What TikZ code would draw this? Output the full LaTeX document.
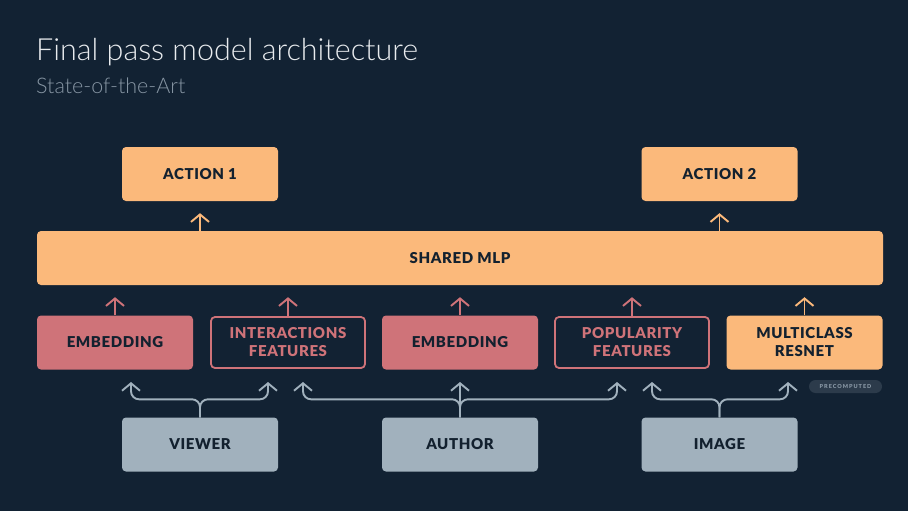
\documentclass[tikz,border=0pt]{standalone}
\usepackage{fontspec}
\setmainfont{Lato}
\newfontfamily\lightfont{Lato Light}
\newfontfamily\labelfont{Lato}[UprightFont=* Black,LetterSpace=4]
\usetikzlibrary{arrows.meta}

\definecolor{bgnavy}{HTML}{122233}
\definecolor{inknavy}{HTML}{13212F}
\definecolor{peach}{HTML}{FBB97B}
\definecolor{rose}{HTML}{CF7379}
\definecolor{slate}{HTML}{A1B1BD}
\definecolor{titlegray}{HTML}{E8EBEE}
\definecolor{subgray}{HTML}{8796A4}
\definecolor{pillfill}{HTML}{2C3B4B}

\tikzset{
  block/.style={rounded corners=4pt, minimum width=156pt, minimum height=54pt,
    inner sep=0pt, align=center, text=inknavy,
    font=\labelfont\fontsize{15}{18}\selectfont},
  peachbox/.style={block, fill=peach},
  rosebox/.style={block, fill=rose},
  rosering/.style={block, draw=rose, line width=1.8pt, fill=bgnavy, text=rose,
    minimum width=154pt, minimum height=51pt},
  slatebox/.style={block, fill=slate},
  uparrow/.style={line width=1.9pt, shorten >=12pt,
    -{Straight Barb[length=7.5pt,width=18pt]}},
  fork/.style={line width=1.9pt, draw=slate, rounded corners=8pt,
    -{Straight Barb[length=7.5pt,width=18pt]}},
}

\begin{document}
\begin{tikzpicture}[x=1pt,y=-1pt]
  % backdrop
  \fill[bgnavy] (0,0) rectangle (908,511);
  \useasboundingbox (0,0) rectangle (908,511);

  % headings
  \node[anchor=base west, inner sep=0pt, text=titlegray,
        font=\lightfont\fontsize{30.5}{36}\selectfont] (title) at (36,60)
        {Final pass model architecture};
  \node[anchor=base west, inner sep=0pt, text=subgray,
        font=\lightfont\fontsize{21.5}{26}\selectfont] (subtitle) at (36,94)
        {State-of-the-Art};

  % outputs
  \node[peachbox] (act1) at (200,174) {ACTION 1};
  \node[peachbox] (act2) at (719.5,174) {ACTION 2};

  % shared trunk
  \node[peachbox, minimum width=846pt] (mlp) at (460,258) {SHARED MLP};

  % feature blocks
  \node[rosebox]  (emb1) at (115,342.5) {EMBEDDING};
  \node[rosering] (inter) at (288,342.5) {INTERACTIONS\\FEATURES};
  \node[rosebox]  (emb2) at (460,342.5) {EMBEDDING};
  \node[rosering] (popul) at (632,342.5) {POPULARITY\\FEATURES};
  \node[peachbox] (resnet) at (804.5,342.5) {MULTICLASS\\RESNET};

  % precomputed tag
  \node[fill=pillfill, rounded corners=6.5pt, minimum width=73pt,
        minimum height=13pt, inner sep=0pt, text=subgray,
        font=\labelfont\fontsize{5.5}{6}\selectfont\addfontfeatures{LetterSpace=18}]
        (tag) at (845.5,386.5) {PRECOMPUTED};

  % inputs
  \node[slatebox] (viewer) at (200,444.5) {VIEWER};
  \node[slatebox] (author) at (460,444.5) {AUTHOR};
  \node[slatebox] (image)  at (719.5,444.5) {IMAGE};

  % trunk to outputs
  \draw[uparrow, peach] (act1.south |- mlp.north) -- (act1.south);
  \draw[uparrow, peach] (act2.south |- mlp.north) -- (act2.south);

  % blocks into trunk
  \draw[uparrow, rose]  (emb1.north)   -- (emb1.north |- mlp.south);
  \draw[uparrow, rose]  (inter.north)  -- (inter.north |- mlp.south);
  \draw[uparrow, rose]  (emb2.north)   -- (emb2.north |- mlp.south);
  \draw[uparrow, rose]  (popul.north)  -- (popul.north |- mlp.south);
  \draw[uparrow, peach] (resnet.north) -- (resnet.north |- mlp.south);

  % input fan-out targets
  \coordinate (vL) at (131,382);
  \coordinate (vR) at (268,382);
  \coordinate (aL) at (303,382);
  \coordinate (aM) at (460,382);
  \coordinate (aR) at (617,382);
  \coordinate (iL) at (652,382);
  \coordinate (iR) at (788,382);

  \draw[fork] (viewer.north) -- ++(0,-18) -| (vL);
  \draw[fork] (viewer.north) -- ++(0,-18) -| (vR);
  \draw[fork] (author.north) -- ++(0,-18) -| (aL);
  \draw[fork] (author.north) -- (aM);
  \draw[fork] (author.north) -- ++(0,-18) -| (aR);
  \draw[fork] (image.north) -- ++(0,-18) -| (iL);
  \draw[fork] (image.north) -- ++(0,-18) -| (iR);
\end{tikzpicture}
\end{document}
